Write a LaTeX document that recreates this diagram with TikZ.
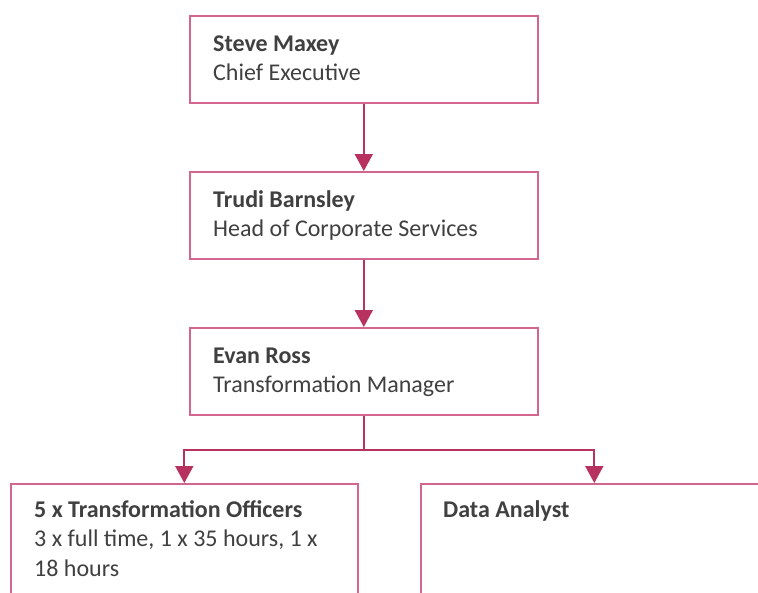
\documentclass[tikz,border=0pt]{standalone}
\usepackage{fontspec}
\setmainfont{Carlito}
\usetikzlibrary{arrows.meta,positioning,calc}
\definecolor{boxline}{HTML}{D2668F}
\definecolor{conn}{HTML}{B8325F}
\definecolor{txt}{HTML}{404040}
\tikzset{
  orgbox/.style={draw=boxline, line width=1.6pt, fill=white, rectangle, minimum width=348pt, minimum height=87pt, inner sep=0pt, anchor=north west},
  orgtext/.style={anchor=base west, inner sep=0pt, align=left, text=txt, font=\fontsize{24}{29.5}\selectfont},
  conline/.style={draw=conn, line width=2pt, -{Triangle[width=18pt,length=17pt]}},
  conplain/.style={draw=conn, line width=2pt}
}
\begin{document}
\begin{tikzpicture}[x=1pt,y=-1pt]
\useasboundingbox (0,0) rectangle (758,592);
\clip (0,0) rectangle (758,592);
\node[orgbox] (a) at (189,15) {};
\node[orgbox] (b) at (189,171) {};
\node[orgbox] (c) at (189,327) {};
\node[orgbox, minimum width=347pt, minimum height=140pt] (d) at (10,483) {};
\node[orgbox, minimum width=347pt, minimum height=140pt] (e) at (420,483) {};
\node[orgtext] (ta) at (213,80.5) {\textbf{Steve Maxey}\\Chief Executive};
\node[orgtext] (tb) at (213,236.5) {\textbf{Trudi Barnsley}\\Head of Corporate Services};
\node[orgtext] (tc) at (213,392.5) {\textbf{Evan Ross}\\Transformation Manager};
\node[orgtext] (td) at (34,576) {\textbf{5 x Transformation Officers}\\3 x full time, 1 x 35 hours, 1 x\\18 hours};
\node[orgtext] (te) at (443,517) {\textbf{Data Analyst}};
\coordinate (j) at ($(c.south)+(0,34)$);
\draw[conline] (a.south) -- (b.north);
\draw[conline] (b.south) -- (c.north);
\draw[conplain] (c.south) -- (j);
\draw[conline] (j) -| (d.north);
\draw[conline] (j) -| (e.north);
\end{tikzpicture}
\end{document}
